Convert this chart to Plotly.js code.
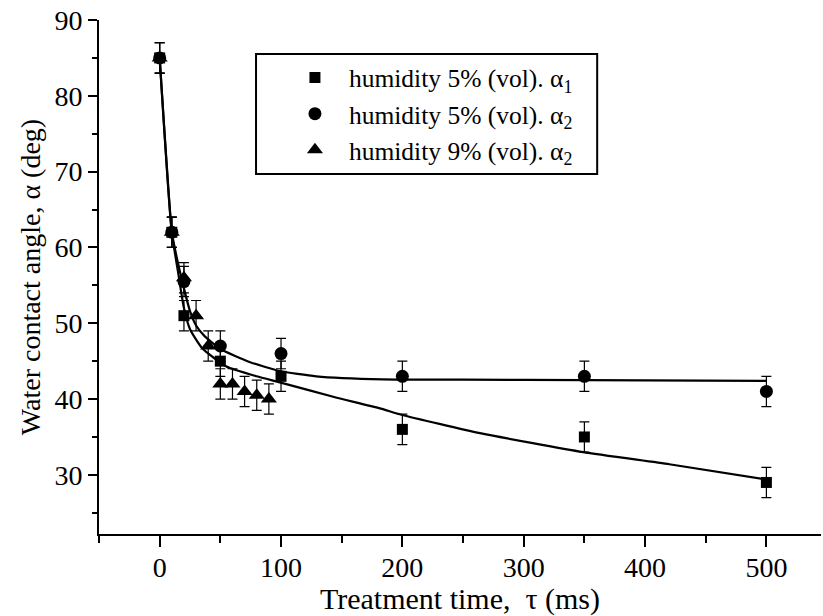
<!DOCTYPE html>
<html>
<head>
<meta charset="utf-8">
<script src="https://cdn.plot.ly/plotly-3.0.1.min.js"></script>
<style>html,body{margin:0;padding:0;background:#fff;}#plot{width:823px;height:616px;}</style>
</head>
<body>
<div id="plot"></div>
<script>
const xSq = [0, 10, 20, 50, 100, 200, 350, 500];
const ySq = [85, 62, 51, 45, 43, 36, 35, 29];
const eSq = [2, 2, 2, 2, 2, 2, 2, 2];

const xCi = [0, 10, 20, 50, 100, 200, 350, 500];
const yCi = [85, 62, 55.5, 47, 46, 43, 43, 41];
const eCi = [2, 2, 2, 2, 2, 2, 2, 2];

const xTr = [0, 10, 20, 30, 40, 50, 60, 70, 80, 90];
const yTr = [85, 62, 56, 51, 47, 42, 42, 41, 40.5, 40];
const eTr = [2, 2, 2, 2, 2, 2, 2, 2, 2, 2];

// Fitted curves
const xFit1 = [0, 10, 15, 20, 25, 35, 55, 80, 99, 143, 181, 200, 264, 349, 420, 500];
const yFit1 = [85, 62, 56.9, 52.0, 49.2, 46.7, 44.3, 43.0, 42.2, 40.3, 38.8, 37.9, 35.5, 33.0, 31.4, 29.4];
const xFit2 = [0, 10, 15, 20, 25, 30, 37, 50, 74, 99, 129, 184, 250, 350, 500];
const yFit2 = [85, 62, 58.0, 54.6, 51.6, 49.7, 48.3, 46.6, 44.9, 43.7, 43.0, 42.6, 42.55, 42.5, 42.4];

const legendNames = [
  'humidity 5% (vol). α<sub>1</sub>',
  'humidity 5% (vol). α<sub>2</sub>',
  'humidity 9% (vol). α<sub>2</sub>'
];
const xTickVals = [0, 100, 200, 300, 400, 500];
const yTickVals = [30, 40, 50, 60, 70, 80, 90];

const FONT = '"Liberation Serif", "Times New Roman", Times, serif';
const errStyle = (arr) => ({type: 'data', array: arr, visible: true, color: '#000', thickness: 1.2, width: 5});

const traces = [
  {x: xFit1, y: yFit1, mode: 'lines', line: {color: '#000', width: 2.2, shape: 'spline', smoothing: 0.5}, showlegend: false, hoverinfo: 'skip'},
  {x: xFit2, y: yFit2, mode: 'lines', line: {color: '#000', width: 2.2, shape: 'spline', smoothing: 0.5}, showlegend: false, hoverinfo: 'skip'},
  {x: xSq, y: ySq, mode: 'markers', name: legendNames[0], error_y: errStyle(eSq),
   marker: {symbol: 'square', size: 11, color: '#000'}},
  {x: xCi, y: yCi, mode: 'markers', name: legendNames[1], error_y: errStyle(eCi),
   marker: {symbol: 'circle', size: 13, color: '#000'}},
  {x: xTr, y: yTr, mode: 'markers', name: legendNames[2], error_y: errStyle(eTr),
   marker: {symbol: 'triangle-up', size: 14, color: '#000'}}
];

const layout = {
  width: 823, height: 616,
  margin: {l: 99, r: 2, t: 20, b: 82},
  paper_bgcolor: '#fff', plot_bgcolor: '#fff',
  font: {family: FONT, color: '#000'},
  showlegend: true,
  xaxis: {
    range: [-50, 545], tickvals: xTickVals, ticktext: xTickVals.map(String),
    showline: true, linecolor: '#000', linewidth: 2, zeroline: false, showgrid: false,
    ticks: 'outside', ticklen: 11, tickwidth: 2, tickcolor: '#000',
    minor: {tickvals: [-50, 50, 150, 250, 350, 450], ticks: 'outside', ticklen: 7, tickwidth: 2, tickcolor: '#000', showgrid: false},
    tickfont: {family: FONT, size: 28},
    ticklabelstandoff: -4,
    title: {text: 'Treatment time,  τ (ms)', font: {family: FONT, size: 30}, standoff: 2},
    automargin: false
  },
  yaxis: {
    range: [22.2, 90], tickvals: yTickVals, ticktext: yTickVals.map(String),
    showline: true, linecolor: '#000', linewidth: 2, zeroline: false, showgrid: false,
    ticks: 'outside', ticklen: 9, tickwidth: 2, tickcolor: '#000',
    minor: {tickvals: [25, 35, 45, 55, 65, 75, 85], ticks: 'outside', ticklen: 5, tickwidth: 2, tickcolor: '#000', showgrid: false},
    tickfont: {family: FONT, size: 28},
    title: {text: 'Water contact angle, α (deg)', font: {family: FONT, size: 28}, standoff: 6},
    automargin: false
  },
  legend: {
    x: 0.252, y: 0.933, xanchor: 'left', yanchor: 'top',
    bgcolor: 'rgba(0,0,0,0)', borderwidth: 0,
    font: {family: FONT, size: 25.5},
    itemwidth: 58, tracegroupgap: 0
  },
  shapes: [
    {type: 'rect', xref: 'paper', yref: 'paper', x0: 0.2175, x1: 0.690, y0: 0.7004, y1: 0.934,
     line: {color: '#000', width: 2}, fillcolor: 'rgba(0,0,0,0)'}
  ]
};

Plotly.newPlot('plot', traces, layout, {displayModeBar: false, staticPlot: true});
</script>
</body>
</html>
